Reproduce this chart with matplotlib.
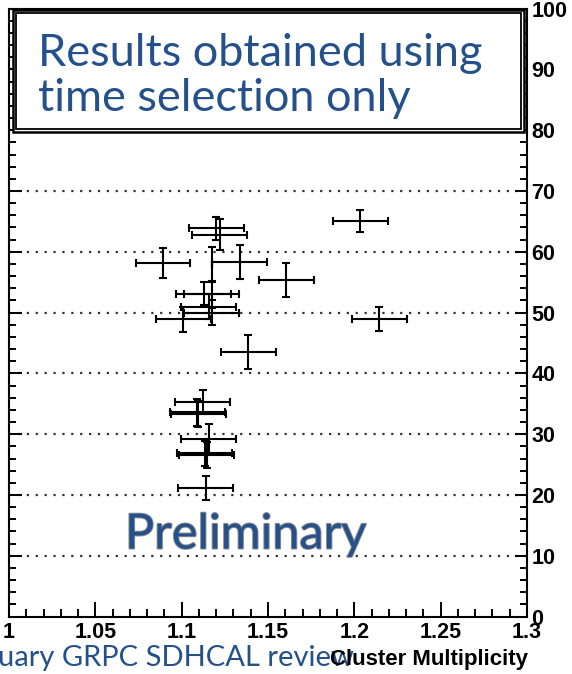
import matplotlib
matplotlib.use("Agg")
import matplotlib.pyplot as plt
import matplotlib.patheffects as pe
from matplotlib.patches import Rectangle
from matplotlib.ticker import MultipleLocator, FixedLocator, FixedFormatter

# cluster multiplicity vs efficiency points (with errors)
mult = [1.2035, 1.1201, 1.1221, 1.0892, 1.1335, 1.1173, 1.1605, 1.1127, 1.1173, 1.1156, 1.1173,
        1.1009, 1.2145, 1.1387, 1.1121, 1.1091, 1.1095, 1.1156, 1.1133, 1.1145, 1.1139]
mult_err = [0.0159, 0.0159, 0.0159, 0.0159, 0.0159, 0.0, 0.0159, 0.0159, 0.0159, 0.0159, 0.0159,
            0.0159, 0.0159, 0.0161, 0.0159, 0.0159, 0.0159, 0.0159, 0.0159, 0.0159, 0.0159]
val = [65.1, 63.9, 62.8, 58.1, 58.4, 57.9, 55.4, 53.1, 53.0, 51.0, 50.0,
       48.9, 48.95, 43.5, 35.25, 33.6, 33.3, 29.2, 26.9, 26.6, 21.1]
val_err = [1.8, 1.9, 2.55, 2.45, 2.8, 2.9, 2.8, 1.9, 2.2, 2.05, 2.0,
           2.1, 1.9, 2.8, 2.0, 2.2, 2.1, 2.4, 2.05, 2.1, 2.0]

xticks = [1.0, 1.05, 1.1, 1.15, 1.2, 1.25, 1.3]
xticklabels = ["1", "1.05", "1.1", "1.15", "1.2", "1.25", "1.3"]
grid_levels = [10, 20, 30, 40, 50, 60, 70, 80, 90]

blue = "#24508c"

# ROOT look: bold helvetica-like labels
plt.rcParams["font.family"] = ["Liberation Sans"]
plt.rcParams["font.weight"] = "bold"

fig = plt.figure(figsize=(5.72, 6.74), dpi=100)
ax = fig.add_axes([9 / 572, 1 - 616.6 / 674, (527 - 9) / 572, (616.6 - 8.6) / 674])
ax.set_xlim(1.0, 1.3)
ax.set_ylim(0, 100)

for lev in grid_levels:
    ax.axhline(lev, color="#333333", lw=1.6, linestyle=(0, (1, 3)), zorder=1)

ax.errorbar(mult, val, xerr=mult_err, yerr=val_err, fmt="none", ecolor="black",
            elinewidth=1.5, capsize=2.8, capthick=1.5, zorder=3)

# inward ticks on all sides, labels on the right
ax.xaxis.set_major_locator(FixedLocator(xticks))
ax.xaxis.set_major_formatter(FixedFormatter(xticklabels))
ax.xaxis.set_minor_locator(MultipleLocator(0.01))
ax.yaxis.set_major_locator(MultipleLocator(10))
ax.yaxis.set_minor_locator(MultipleLocator(2))
ax.tick_params(axis="x", which="both", direction="in", top=True, bottom=True, width=1.4,
               labelsize=15.5)
ax.tick_params(axis="x", which="major", length=11, pad=4)
ax.tick_params(axis="x", which="minor", length=5.5)
ax.tick_params(axis="y", which="both", direction="in", left=True, right=True,
               labelleft=False, labelright=True, width=1.4, labelsize=15.5)
ax.tick_params(axis="y", which="major", length=9, pad=3)
ax.tick_params(axis="y", which="minor", length=5)
for sp in ax.spines.values():
    sp.set_linewidth(1.5)

# text box on top of the frame
for inset, lw in [(0, 1.8), (3, 1.3)]:
    x0 = (13 + inset) / 572
    y0 = 1 - (132 - inset) / 674
    w = (524 - 13 - 2 * inset) / 572
    h = (132 - 10 - 2 * inset) / 674
    fig.add_artist(Rectangle((x0, y0), w, h, transform=fig.transFigure,
                             facecolor="white", edgecolor="black", lw=lw, zorder=5))
fig.text(38 / 572, 1 - 76 / 674, "Results obtained using\ntime selection only",
         fontsize=32.5, color=blue, family="Lato", fontweight="normal",
         va="center", ha="left", linespacing=1.15, zorder=6)

ax.text(1.137, 13.5, "Preliminary", fontsize=35, color=blue, family="Lato",
        fontweight="normal", ha="center", va="center", zorder=4,
        path_effects=[pe.withStroke(linewidth=1.4, foreground="#8a8a8a")])

fig.text(-2 / 572, 1 - 658 / 674, "uary GRPC SDHCAL review", fontsize=21, color=blue,
         family="Lato", fontweight="normal", ha="left", va="center")
fig.text(528 / 572, 1 - 660 / 674, "Cluster Multiplicity", fontsize=16, fontweight="bold",
         ha="right", va="center")

fig.savefig("out.png", dpi=100)
